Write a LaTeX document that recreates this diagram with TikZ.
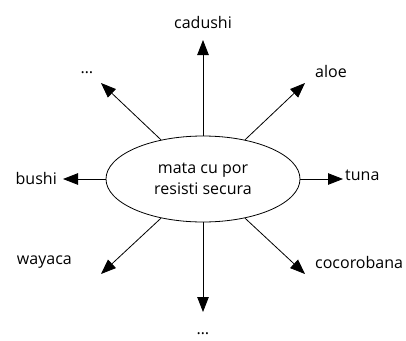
\documentclass[tikz,border=0pt]{standalone}
\usepackage{fontspec}
\setmainfont{Open Sans}
\usetikzlibrary{shapes.geometric,arrows.meta}
\begin{document}
\begin{tikzpicture}[x=1pt,y=-1pt,
  lbl/.style={font=\fontsize{16}{18}\selectfont, inner sep=0pt},
  arr/.style={draw, line width=0.8pt, -{Triangle[length=15pt,width=11.5pt]}}]
\useasboundingbox (0,0) rectangle (406,340);
\node[draw, ellipse, line width=0.8pt, minimum width=194pt, minimum height=86pt, inner sep=0pt, align=center,
  font=\fontsize{16}{21}\selectfont] (e) at (203,179) {mata cu por\\resisti secura};
\coordinate (tN) at (203,40);
\coordinate (tS) at (203,312);
\coordinate (tE) at (343,179);
\coordinate (tW) at (63,179);
\coordinate (tNE) at (305,83);
\coordinate (tNW) at (101,83);
\coordinate (tSE) at (305,274);
\coordinate (tSW) at (101,274);
\draw[arr] (e.north) -- (tN);
\draw[arr] (e.south) -- (tS);
\draw[arr] (e.east) -- (tE);
\draw[arr] (e.west) -- (tW);
\draw[arr] (e.43) -- (tNE);
\draw[arr] (e.137) -- (tNW);
\draw[arr] (e.-43) -- (tSE);
\draw[arr] (e.-137) -- (tSW);
\node[lbl] (lN) at (203,22) {cadushi};
\node[lbl] (lS) at (203,334) {\dots};
\node[lbl, anchor=west] (lE) at (345,175) {tuna};
\node[lbl, anchor=east] (lW) at (57,178) {bushi};
\node[lbl, anchor=west] (lNE) at (315,71) {aloe};
\node[lbl] (lNW) at (87,73) {\dots};
\node[lbl, anchor=west] (lSE) at (315,262) {cocorobana};
\node[lbl, anchor=east] (lSW) at (72,262) {wayaca};
\end{tikzpicture}
\end{document}
